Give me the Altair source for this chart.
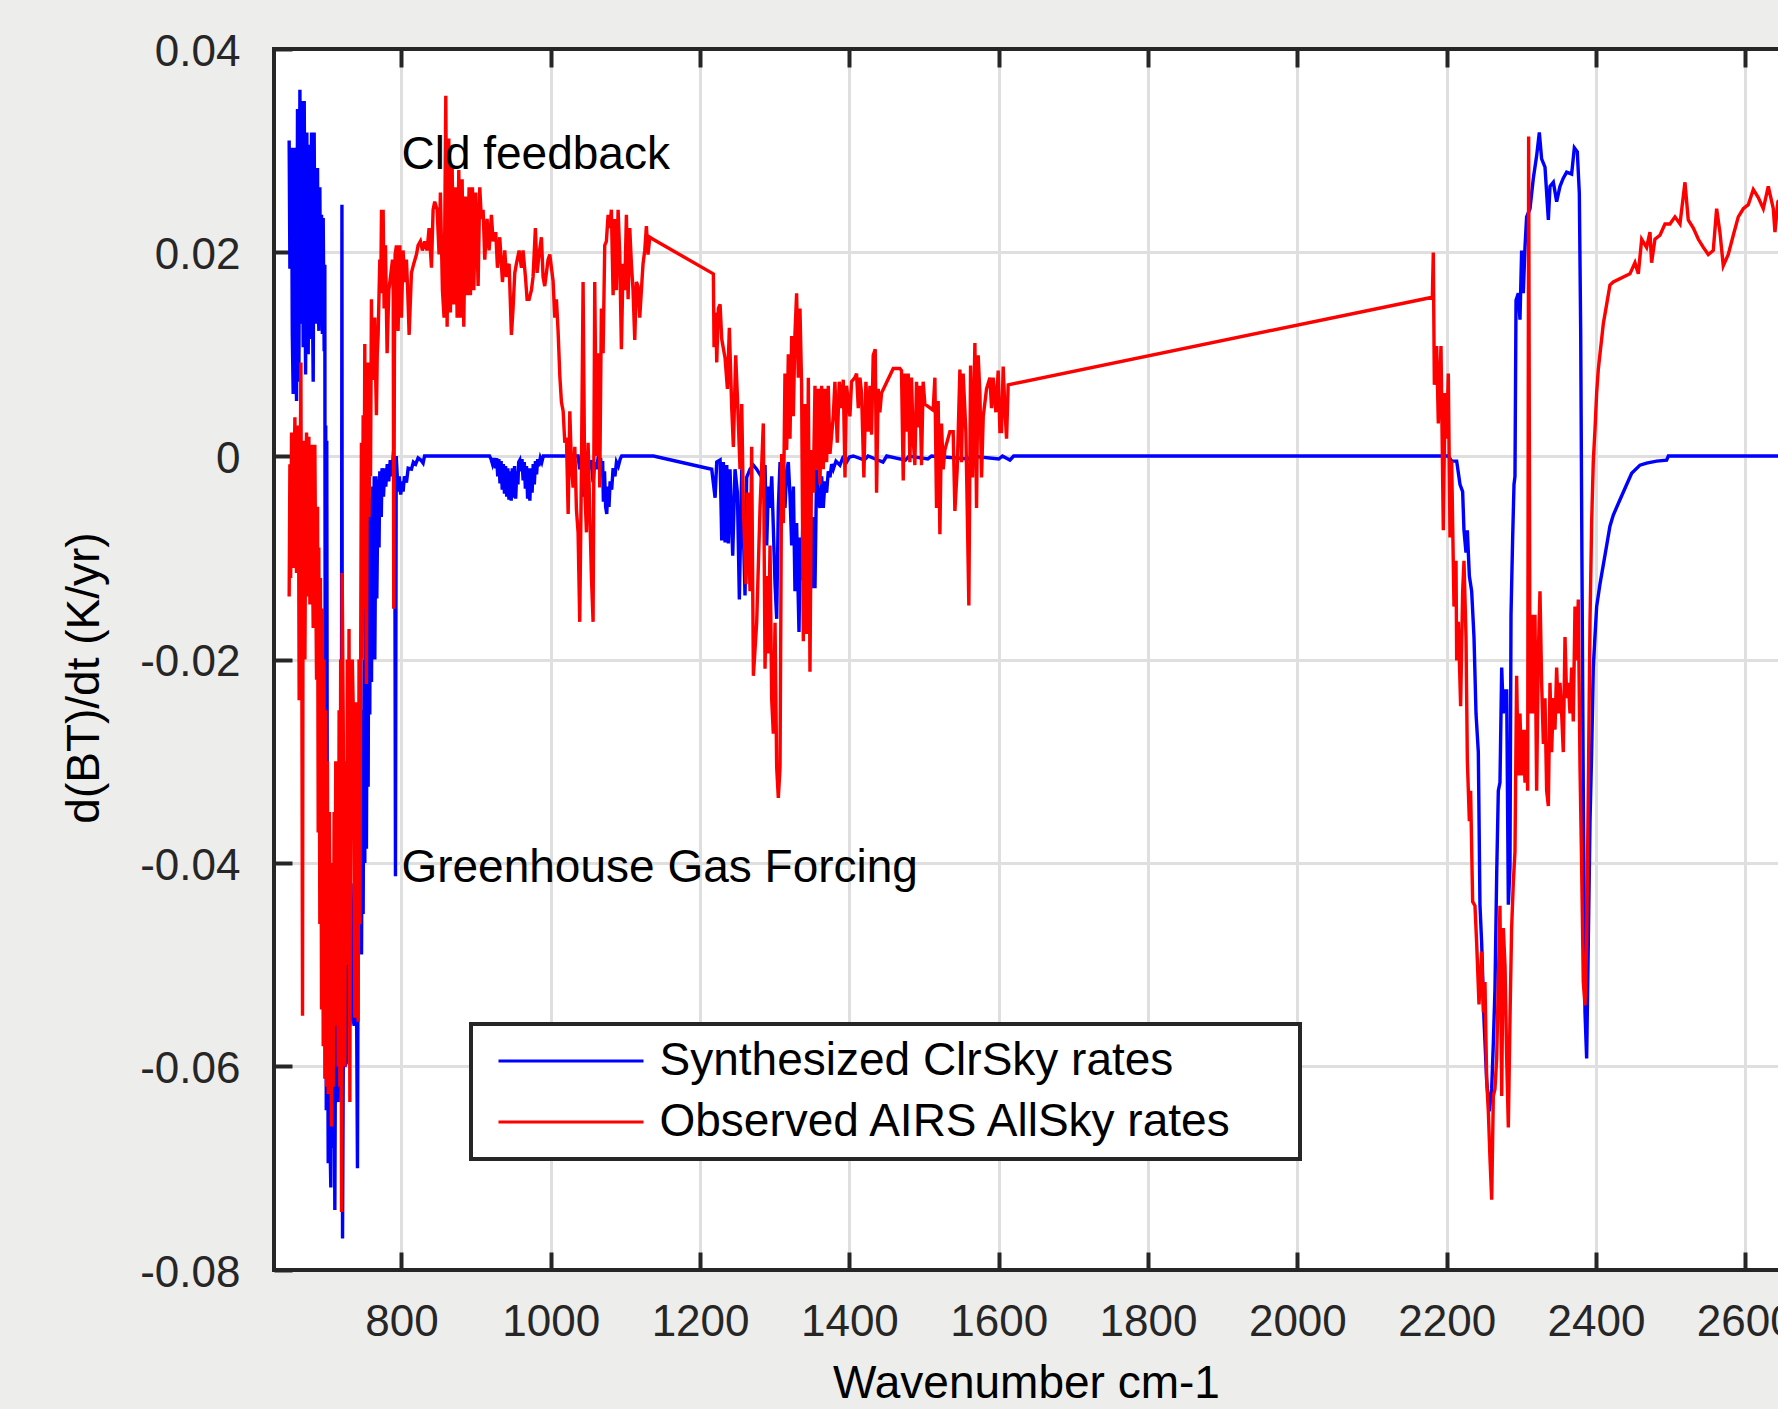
import altair as alt
import pandas as pd

# ---------------- values ----------------
series_names = ["Synthesized ClrSky rates", "Observed AIRS AllSky rates"]
series_colors = ["#0000ff", "#ff0000"]

# (wavenumber cm-1, d(BT)/dt K/yr)
blue_co2_band = [
    (649.6, 0.031), (650.6, 0.0184), (651.5, 0.029), (652.8, 0.0303), (653.8, 0.012), (655.0, 0.0061),
    (656.0, 0.022), (657.3, 0.0303), (658.4, 0.010), (659.5, 0.0054), (660.8, 0.0341), (661.6, 0.015),
    (662.6, 0.0073), (664.0, 0.036), (665.3, 0.013), (666.2, 0.028), (667.1, 0.0349), (668.4, 0.0107),
    (669.8, 0.0349), (670.7, 0.018), (671.6, 0.008), (673.3, 0.0318), (674.2, 0.015), (675.1, 0.010),
    (676.5, 0.0306), (677.4, 0.018), (678.2, 0.0115), (679.6, 0.0318), (680.7, 0.016), (681.8, 0.0073),
    (683.1, 0.0318), (684.0, 0.020), (684.9, 0.013), (686.3, 0.025), (687.6, 0.0283), (688.5, 0.015),
    (689.4, 0.0123), (690.7, 0.0264), (691.8, 0.014), (693.0, 0.0237), (694.1, 0.012), (695.2, 0.0234),
    (696.5, 0.0103), (697.4, 0.0188), (698.0, -0.040), (698.6, 0.003), (699.3, -0.0643), (700.0, 0.0015),
    (700.8, -0.045), (701.9, -0.0695), (702.8, -0.040), (704.0, -0.066), (705.4, -0.0719), (706.5, -0.045),
    (708.0, -0.068), (709.2, -0.048), (710.8, -0.0741), (712.0, -0.050), (713.5, -0.062), (715.3, -0.0635),
    (716.5, -0.045), (718.0, -0.060), (719.5, -0.048), (720.3, 0.0247), (721.1, -0.0769), (722.5, -0.052),
    (724.0, -0.060), (726.4, -0.0596), (728.0, -0.045), (730.9, -0.056), (732.5, -0.042), (734.5, -0.055),
    (736.7, -0.056), (738.5, -0.040), (740.0, -0.055), (741.1, -0.070), (742.5, -0.035), (744.3, -0.049),
    (745.5, -0.030), (746.5, -0.049), (748.0, -0.025), (748.7, -0.045), (750.0, -0.020), (750.9, -0.040),
    (752.0, -0.015), (753.1, -0.0386), (754.5, -0.010), (755.4, -0.0325), (756.5, -0.006), (757.6, -0.0254),
    (758.5, -0.004), (759.9, -0.0222), (761.0, -0.003), (762.1, -0.0198), (763.5, -0.002), (764.3, -0.020),
    (766.0, -0.002), (767.0, -0.014), (768.8, -0.0023), (770.0, -0.009), (771.0, -0.0015), (773.0, -0.006),
    (774.0, -0.0012), (776.0, -0.004), (777.5, -0.0012), (779.0, -0.003), (781.0, -0.0008), (783.0, -0.0025),
    (785.0, -0.0004), (787.0, -0.002), (789.0, 0.0), (791.0, -0.0003), (792.0, -0.0413), (793.0, 0.0),
    (795.5, -0.0035), (797.0, -0.0020), (799.0, -0.0038), (801.0, -0.0025), (802.2, -0.0035), (804.0, -0.0020),
    (806.7, -0.0026), (809.0, -0.0012), (813.4, -0.0013), (816.0, -0.0006), (819.0, -0.0008), (822.3, -0.0002),
    (826.0, -0.0004), (829.0, -0.0007), (831.0, 0.0),
]
blue_window = [
    (918.0, 0.0), (920.0, -0.0003), (922.0, -0.0008), (924.0, -0.0002), (926.0, -0.0012), (927.5, -0.0002),
    (929.0, -0.0020), (930.5, -0.0003), (932.0, -0.0027), (933.5, -0.0005), (935.0, -0.0033), (936.5, -0.0008),
    (938.0, -0.0037), (939.5, -0.0010), (941.0, -0.0040), (942.5, -0.0012), (944.0, -0.0043), (945.5, -0.0015),
    (947.0, -0.0044), (948.5, -0.0012), (950.0, -0.0041), (951.5, -0.0010), (953.0, -0.0042), (954.5, -0.0015),
    (956.0, -0.0028), (957.0, -0.0006), (958.5, -0.0004), (960.0, -0.0015), (961.5, -0.0003), (963.0, -0.0024),
    (964.5, -0.0006), (966.0, -0.0032), (967.5, -0.0010), (969.0, -0.0042), (970.5, -0.0012), (972.0, -0.0044),
    (973.5, -0.0012), (975.0, -0.0036), (976.5, -0.0008), (978.0, -0.0028), (979.5, -0.0005), (981.0, -0.0018),
    (982.5, -0.0003), (984.0, -0.0010), (986.0, -0.0002), (988.0, -0.0006), (990.0, 0.0), (1036.6, 0.0),
    (1038.8, -0.0013), (1041.0, -0.0003), (1043.3, -0.0040), (1045.5, -0.0004), (1047.7, 0.0), (1050.0, -0.0006),
    (1052.2, -0.0013), (1054.4, -0.0004), (1056.7, -0.0026), (1058.9, -0.0006), (1061.1, -0.0013), (1063.4, -0.0002),
    (1065.6, -0.0004), (1066.8, -0.0002), (1068.2, -0.0020), (1069.5, -0.0005), (1070.5, -0.0045), (1072.0, -0.0015),
    (1073.5, -0.0050), (1075.0, -0.0057), (1076.5, -0.0030), (1078.0, -0.0050), (1079.5, -0.0025), (1081.6, -0.0033),
    (1083.5, -0.0012), (1086.0, -0.0020), (1088.0, -0.0006), (1090.5, -0.0010), (1093.0, -0.0003), (1095.0, 0.0),
    (1137.6, 0.0),
]
blue_h2o_band = [
    (1215.6, -0.0013), (1220.1, -0.0041), (1222.3, -0.0006), (1226.8, -0.0004), (1229.0, -0.0083), (1231.2, -0.0006),
    (1233.5, -0.0085), (1235.7, -0.0009), (1237.9, -0.0086), (1240.1, -0.0013), (1243.7, -0.0098), (1246.8, -0.0013),
    (1250.0, -0.0036), (1252.6, -0.0141), (1255.8, -0.0013), (1260.2, -0.0137), (1262.4, -0.0021), (1266.9, -0.0013),
    (1271.4, -0.0009), (1275.8, -0.0013), (1282.5, -0.0021), (1287.0, -0.0009), (1289.2, -0.0088), (1291.5, -0.0030),
    (1293.7, -0.0051), (1296.0, -0.0020), (1298.1, -0.0070), (1300.4, -0.0126), (1302.6, -0.0160), (1304.8, -0.0051),
    (1307.1, -0.0006), (1310.6, -0.0021), (1313.7, -0.0051), (1316.0, -0.0015), (1318.2, -0.0006), (1320.5, -0.0040),
    (1322.7, -0.0088), (1325.0, -0.0030), (1327.1, -0.0133), (1329.3, -0.0066), (1332.5, -0.0173), (1334.2, -0.0080),
    (1336.0, -0.0122), (1338.3, -0.0040), (1340.5, -0.0013), (1342.7, -0.0060), (1345.0, -0.0051), (1347.2, -0.0110),
    (1349.4, -0.0130), (1351.6, -0.0060), (1353.9, -0.0130), (1356.1, -0.0013), (1358.3, -0.0045), (1360.6, -0.0051),
    (1362.8, -0.0020), (1365.0, -0.0051), (1367.3, -0.0025), (1369.5, -0.0036), (1371.7, -0.0015), (1374.0, -0.0021),
    (1376.2, -0.0008), (1378.4, -0.0013), (1382.0, -0.0005), (1387.3, -0.0009), (1391.0, -0.0002), (1396.2, -0.0006),
    (1400.0, -0.0001), (1405.2, 0.0), (1420.0, -0.0004), (1425.0, 0.0), (1445.0, -0.0006), (1450.0, 0.0),
    (1475.0, -0.0004), (1480.0, 0.0), (1505.0, -0.0003), (1510.0, 0.0), (1560.0, -0.0003), (1563.0, 0.0),
    (1600.0, -0.0003), (1605.0, 0.0), (1615.0, -0.0004), (1620.0, 0.0),
]
blue_shortwave = [
    (2202.2, 0.0), (2206.7, -0.0005), (2213.4, -0.0005), (2217.9, -0.0028), (2221.4, -0.0035), (2223.2, -0.0073),
    (2225.9, -0.0095), (2227.7, -0.0073), (2230.4, -0.0118), (2233.5, -0.0133), (2236.6, -0.0178), (2239.3, -0.0253),
    (2242.4, -0.0291), (2244.6, -0.0441), (2246.9, -0.0479), (2250.0, -0.0554), (2253.6, -0.0614), (2257.1, -0.0644),
    (2260.3, -0.0622), (2262.5, -0.0577), (2264.7, -0.0524), (2267.0, -0.0411), (2269.2, -0.0329), (2271.4, -0.0321),
    (2273.7, -0.0208), (2275.9, -0.0253), (2278.2, -0.0231), (2280.4, -0.0231), (2282.6, -0.0441), (2284.8, -0.0404),
    (2286.2, -0.0156), (2288.4, -0.0080), (2290.2, -0.0028), (2291.5, -0.0020), (2292.9, 0.0153), (2296.0, 0.0160),
    (2298.2, 0.0134), (2300.4, 0.0202), (2302.7, 0.0160), (2304.9, 0.0205), (2307.1, 0.0235), (2311.6, 0.0243),
    (2316.1, 0.0273), (2320.5, 0.0295), (2324.1, 0.0318), (2327.2, 0.0292), (2331.7, 0.0284), (2336.2, 0.0232),
    (2338.4, 0.0265), (2342.9, 0.0269), (2347.3, 0.0250), (2351.8, 0.0265), (2356.2, 0.0273), (2360.7, 0.0279),
    (2367.4, 0.0277), (2371.0, 0.0303), (2375.0, 0.0299), (2377.7, 0.0258), (2379.5, 0.0123), (2381.2, -0.0103),
    (2383.0, -0.0329), (2385.3, -0.0547), (2387.5, -0.0592), (2389.7, -0.0479), (2392.0, -0.0359), (2394.2, -0.0291),
    (2396.4, -0.0208), (2398.6, -0.0178), (2400.9, -0.0148), (2405.3, -0.0126), (2409.8, -0.0107), (2414.3, -0.0088),
    (2418.7, -0.0069), (2423.2, -0.0058), (2432.1, -0.0043), (2441.1, -0.0028), (2447.8, -0.0017), (2458.9, -0.0009),
    (2467.8, -0.0007), (2481.2, -0.0005), (2494.6, -0.0004), (2496.9, 0.0), (2665.0, 0.0),
]

red_co2_band = [
    (649.6, -0.0138), (650.6, -0.0008), (651.6, -0.012), (652.8, 0.0023), (654.0, -0.006), (655.0, -0.011),
    (656.2, -0.002), (657.3, 0.0038), (658.4, -0.008), (659.5, -0.0115), (660.6, 0.000), (661.7, 0.003),
    (662.4, -0.010), (663.0, -0.024), (664.2, -0.005), (665.3, 0.0092), (666.0, -0.008), (666.6, -0.020),
    (667.5, -0.055), (668.2, -0.010), (668.9, 0.0015), (669.8, -0.008), (670.7, -0.020), (671.8, -0.004),
    (672.9, 0.0023), (673.6, -0.006), (674.2, -0.0138), (675.1, -0.003), (676.0, 0.0019), (676.7, -0.008),
    (677.4, -0.0146), (678.5, -0.004), (679.6, 0.0011), (680.7, -0.009), (681.8, -0.0169), (682.9, -0.003),
    (684.0, 0.0011), (685.2, -0.012), (686.3, -0.022), (687.0, -0.008), (687.6, -0.005), (688.5, -0.037),
    (689.3, -0.009), (690.7, -0.046), (691.5, -0.012), (693.0, -0.0544), (694.0, -0.015), (695.2, -0.058),
    (696.2, -0.020), (697.4, -0.0612), (698.5, -0.025), (699.7, -0.062), (700.8, -0.030), (701.9, -0.0627),
    (703.5, -0.035), (706.3, -0.0659), (707.5, -0.040), (708.6, -0.062), (709.8, -0.035), (710.8, -0.056),
    (712.0, -0.030), (713.0, -0.0456), (714.4, -0.0409), (715.3, -0.060), (716.5, -0.025), (717.5, -0.062),
    (718.6, -0.020), (719.8, -0.0743), (720.6, -0.0115), (722.0, -0.0254), (723.0, -0.045), (724.2, -0.060),
    (725.3, -0.030), (726.4, -0.050), (727.5, -0.020), (728.6, -0.0381), (729.8, -0.017), (730.9, -0.0635),
    (732.0, -0.030), (733.1, -0.0373), (734.2, -0.020), (735.3, -0.0242), (736.5, -0.040), (737.6, -0.0552),
    (738.7, -0.025), (739.8, -0.0242), (741.0, -0.050), (742.0, -0.0556), (743.2, -0.020), (744.3, -0.046),
    (745.5, -0.017), (746.4, 0.0013), (747.4, -0.020), (748.7, 0.004), (749.6, -0.015), (750.9, 0.011),
    (751.8, -0.008), (753.1, -0.0224), (754.0, -0.004), (755.4, 0.0092), (756.5, -0.006), (757.6, 0.0022),
    (758.6, -0.002), (759.8, 0.0154), (760.8, 0.008), (762.1, 0.0075), (763.2, 0.012), (764.3, 0.0136),
    (765.4, 0.008), (766.5, 0.004), (767.6, 0.010), (768.8, 0.0119), (770.0, 0.016), (771.0, 0.0193),
    (772.2, 0.016), (773.3, 0.0242), (774.4, 0.018), (775.5, 0.0242), (776.8, 0.0145), (778.6, 0.0207),
    (780.8, 0.0101), (783.1, 0.0163), (785.3, 0.0176), (788.0, 0.0193), (789.0, 0.016), (789.7, -0.015),
    (790.6, 0.010), (791.5, 0.0198), (793.3, 0.0207), (795.5, 0.0123), (797.8, 0.0207), (800.0, 0.0136),
    (802.2, 0.0202), (804.5, 0.0171), (806.7, 0.0193), (808.5, 0.016), (810.3, 0.0119), (813.4, 0.018),
    (816.5, 0.0189), (820.1, 0.0198), (822.3, 0.0207), (825.4, 0.0211), (828.1, 0.0202), (831.2, 0.0211),
    (834.4, 0.0202), (837.0, 0.0224), (840.2, 0.0185), (842.4, 0.0242), (844.6, 0.0250), (847.8, 0.0242),
    (850.4, 0.0198), (852.2, 0.0259), (854.9, 0.0163), (857.1, 0.0136), (859.4, 0.0354), (861.2, 0.0127),
    (863.4, 0.0312), (865.6, 0.0141), (867.9, 0.0286), (870.1, 0.0149), (872.3, 0.0264), (874.6, 0.0136),
    (876.8, 0.0281), (879.0, 0.0136), (881.3, 0.0272), (883.5, 0.0127), (885.7, 0.0255), (887.9, 0.0158),
    (890.6, 0.0264), (892.4, 0.0158), (895.1, 0.0264), (896.9, 0.0163), (899.6, 0.0259), (902.7, 0.0167),
    (904.9, 0.0264), (907.1, 0.0233), (909.4, 0.0242), (911.6, 0.0193), (914.7, 0.0233), (917.4, 0.0202),
    (920.5, 0.0237), (922.8, 0.0211), (926.3, 0.0220), (928.6, 0.0185), (931.7, 0.0215), (935.3, 0.0171),
    (938.4, 0.0202), (940.6, 0.0176), (944.2, 0.0189), (947.3, 0.0119), (949.5, 0.0145), (951.8, 0.0180),
    (954.0, 0.0189), (957.6, 0.0202), (960.7, 0.0185), (962.9, 0.0202), (966.1, 0.0176), (968.3, 0.0154),
    (971.0, 0.0154), (974.1, 0.0163), (976.3, 0.0176), (979.4, 0.0224), (981.7, 0.0180), (984.3, 0.0198),
    (987.5, 0.0215), (989.7, 0.0176), (991.9, 0.0167), (994.2, 0.0180), (996.4, 0.0193), (998.7, 0.0198),
]
red_window = [
    (1000.9, 0.0185), (1003.1, 0.0172), (1005.4, 0.0136), (1007.6, 0.0154), (1009.8, 0.0123), (1012.1, 0.0079),
    (1014.3, 0.0053), (1016.6, 0.0044), (1018.8, 0.0013), (1021.0, 0.0018), (1023.3, -0.0057), (1025.5, 0.0044),
    (1027.7, -0.0009), (1029.9, -0.0031), (1032.2, 0.0009), (1034.4, -0.0053), (1036.6, -0.0075), (1038.8, -0.0163),
    (1041.1, -0.0013), (1043.3, 0.0171), (1045.5, -0.0031), (1047.8, -0.0075), (1050.0, 0.0013), (1052.2, -0.0053),
    (1054.5, -0.0119), (1056.7, -0.0163), (1058.9, 0.0171), (1061.2, 0.0000), (1063.4, 0.0101), (1065.6, -0.0031),
    (1067.8, 0.0145), (1070.1, 0.0101), (1072.3, 0.0207), (1074.5, 0.0211), (1076.8, 0.0237), (1079.0, 0.0224),
    (1081.2, 0.0242), (1083.5, 0.0158), (1085.7, 0.0233), (1087.9, 0.0163), (1090.2, 0.0242), (1092.4, 0.0198),
    (1094.6, 0.0105), (1096.9, 0.0189), (1099.1, 0.0163), (1101.3, 0.0237), (1103.6, 0.0154), (1105.8, 0.0224),
    (1108.0, 0.0189), (1110.2, 0.0163), (1112.5, 0.0114), (1114.7, 0.0171), (1116.9, 0.0167), (1119.2, 0.0136),
    (1121.4, 0.0163), (1123.6, 0.0189), (1125.9, 0.0202), (1128.1, 0.0226), (1130.3, 0.0198), (1132.6, 0.0215),
    (1137.0, 0.0213),
]
red_h2o_band = [
    (1217.8, 0.0179), (1218.7, 0.0107), (1221.0, 0.0141), (1222.3, 0.0092), (1224.5, 0.0145), (1226.8, 0.0149),
    (1229.0, 0.0115), (1233.5, 0.0096), (1236.6, 0.0066), (1239.2, 0.0126), (1242.4, 0.0047), (1244.6, 0.0009),
    (1247.7, 0.0099), (1250.0, 0.0058), (1253.5, -0.0013), (1255.8, 0.0051), (1258.0, -0.0051), (1261.5, -0.0126),
    (1263.8, -0.0036), (1266.9, -0.0133), (1269.1, 0.0009), (1271.4, -0.0216), (1275.8, -0.0164), (1280.3, -0.0051),
    (1284.7, 0.0032), (1287.0, -0.0209), (1289.2, -0.0118), (1291.4, -0.0194), (1293.7, -0.0088), (1295.9, -0.0239),
    (1298.1, -0.0273), (1300.4, -0.0164), (1302.6, -0.0306), (1304.8, -0.0336), (1307.1, -0.0306), (1309.3, 0.0002),
    (1311.5, -0.0066), (1313.7, 0.0081), (1316.0, 0.0006), (1318.2, 0.0100), (1320.4, 0.0017), (1322.7, 0.0118),
    (1324.9, 0.0039), (1327.1, 0.0120), (1329.3, 0.0160), (1331.6, 0.0077), (1333.8, 0.0145), (1336.0, 0.0069),
    (1338.3, -0.0182), (1340.5, 0.0051), (1342.7, -0.0175), (1345.0, 0.0077), (1347.2, -0.0212), (1349.4, 0.0006),
    (1351.6, -0.0036), (1353.9, 0.0069), (1356.1, -0.0013), (1358.3, 0.0066), (1360.6, -0.0028), (1362.8, 0.0069),
    (1365.0, -0.0013), (1367.3, 0.0066), (1369.5, -0.0006), (1371.7, 0.0069), (1374.0, 0.0002), (1378.4, 0.0039),
    (1380.6, 0.0073), (1383.8, 0.0013), (1386.4, 0.0073), (1389.6, 0.0047), (1391.8, 0.0075), (1394.1, -0.0021),
    (1396.2, 0.0069), (1400.7, 0.0039), (1402.9, 0.0073), (1407.4, 0.0077), (1409.6, 0.0081), (1411.9, 0.0047),
    (1414.1, 0.0077), (1416.3, 0.0062), (1419.4, -0.0021), (1422.1, 0.0073), (1425.2, 0.0024), (1427.5, 0.0069),
    (1429.7, 0.0021), (1431.9, 0.0099), (1434.6, 0.0105), (1436.4, -0.0036), (1438.6, 0.0066), (1440.8, 0.0043),
    (1443.1, 0.0062), (1458.7, 0.0086), (1467.6, 0.0086), (1469.8, 0.0084), (1472.1, -0.0024), (1474.3, 0.0081),
    (1476.5, 0.0024), (1478.8, 0.0081), (1481.0, -0.0006), (1483.2, 0.0077), (1485.4, 0.0017), (1487.7, -0.0009),
    (1489.9, 0.0073), (1492.1, 0.0028), (1494.4, 0.0069), (1496.6, -0.0009), (1498.8, 0.0073), (1501.1, 0.0051),
    (1512.2, 0.0045), (1514.5, 0.0077), (1516.7, -0.0051), (1518.9, 0.0054), (1521.2, -0.0077), (1523.4, 0.0032),
    (1525.6, -0.0013), (1527.9, 0.0006), (1534.6, 0.0024), (1539.0, 0.0024), (1541.3, -0.0054), (1544.4, -0.0013),
    (1548.0, 0.0085), (1550.2, -0.0006), (1552.4, 0.0081), (1556.0, 0.0024), (1557.8, -0.0051), (1560.0, -0.0147),
    (1562.3, 0.0089), (1564.9, -0.0021), (1568.1, 0.0111), (1570.3, -0.0051), (1572.5, 0.0099), (1574.8, 0.0062),
    (1577.0, -0.0021), (1579.3, 0.0039), (1583.7, 0.0066), (1588.2, 0.0077), (1590.4, 0.0047), (1592.6, 0.0077),
    (1596.2, 0.0043), (1599.3, 0.0084), (1601.6, 0.0024), (1603.8, 0.0024), (1606.0, 0.0088), (1608.2, 0.0047),
    (1610.5, 0.0017), (1612.7, 0.0070),
]
red_shortwave = [
    (2180.8, 0.0156), (2182.1, 0.0200), (2183.5, 0.0070), (2186.6, 0.0108), (2188.8, 0.0032), (2192.4, 0.0108),
    (2195.5, -0.0073), (2197.8, 0.0062), (2200.0, 0.0017), (2202.2, 0.0081), (2204.5, -0.0080), (2206.7, -0.0005),
    (2209.8, -0.0148), (2212.5, -0.0103), (2213.4, -0.0201), (2215.6, -0.0163), (2218.7, -0.0246), (2221.4, -0.0133),
    (2223.2, -0.0103), (2225.9, -0.0178), (2227.7, -0.0299), (2230.4, -0.0359), (2232.1, -0.0329), (2234.8, -0.0438),
    (2237.9, -0.0442), (2240.2, -0.0479), (2243.3, -0.0539), (2246.9, -0.0487), (2249.1, -0.0547), (2251.3, -0.0517),
    (2253.6, -0.0614), (2255.8, -0.0644), (2258.0, -0.0690), (2260.3, -0.0731), (2262.5, -0.0629), (2264.7, -0.0622),
    (2267.0, -0.0592), (2269.2, -0.0517), (2271.4, -0.0442), (2273.7, -0.0629), (2275.9, -0.0464), (2278.2, -0.0502),
    (2280.4, -0.0592), (2282.6, -0.0660), (2284.8, -0.0554), (2287.0, -0.0464), (2289.3, -0.0419), (2291.5, -0.0389),
    (2293.7, -0.0216), (2296.0, -0.0314), (2298.2, -0.0253), (2300.4, -0.0314), (2302.7, -0.0269), (2304.9, -0.0321),
    (2307.1, -0.0269), (2308.5, -0.0329), (2309.8, 0.0314), (2311.6, -0.0253), (2313.8, -0.0156), (2316.1, -0.0253),
    (2318.3, -0.0156), (2320.5, -0.0329), (2322.8, -0.0193), (2325.0, -0.0133), (2327.2, -0.0223), (2329.5, -0.0283),
    (2331.7, -0.0238), (2333.9, -0.0329), (2336.2, -0.0344), (2338.4, -0.0223), (2340.6, -0.0291), (2342.9, -0.0238),
    (2345.1, -0.0269), (2347.3, -0.0208), (2349.6, -0.0253), (2351.8, -0.0223), (2354.0, -0.0253), (2356.2, -0.0291),
    (2358.5, -0.0178), (2360.7, -0.0238), (2362.9, -0.0223), (2365.2, -0.0253), (2367.4, -0.0208), (2369.6, -0.0261),
    (2371.9, -0.0148), (2374.1, -0.0201), (2376.3, -0.0141), (2378.6, -0.0306), (2380.8, -0.0404), (2383.0, -0.0517),
    (2385.3, -0.0540), (2387.5, -0.0479), (2389.7, -0.0329), (2392.0, -0.0163), (2394.2, -0.0065), (2396.4, -0.0005),
    (2398.6, 0.0025), (2400.9, 0.0062), (2403.1, 0.0085), (2405.3, 0.0100), (2407.6, 0.0115), (2409.8, 0.0130),
    (2414.3, 0.0149), (2418.7, 0.0168), (2423.2, 0.0171), (2445.5, 0.0179), (2452.2, 0.0190), (2456.7, 0.0179),
    (2461.2, 0.0213), (2467.8, 0.0205), (2472.3, 0.0220), (2474.5, 0.0190), (2479.0, 0.0213), (2485.7, 0.0217),
    (2492.4, 0.0228), (2499.1, 0.0228), (2505.8, 0.0235), (2512.5, 0.0228), (2519.2, 0.0269), (2523.6, 0.0232),
    (2530.4, 0.0224), (2537.1, 0.0213), (2543.8, 0.0205), (2550.4, 0.0198), (2557.1, 0.0202), (2561.6, 0.0243),
    (2566.0, 0.0220), (2570.5, 0.0187), (2577.2, 0.0198), (2583.9, 0.0217), (2590.6, 0.0235), (2597.3, 0.0243),
    (2604.0, 0.0247), (2610.7, 0.0262), (2617.4, 0.0254), (2624.1, 0.0243), (2630.8, 0.0265), (2637.5, 0.0243),
    (2639.7, 0.0220), (2643.7, 0.0250), (2652.0, 0.0255), (2665.0, 0.0240),
]

x_tick_values = [800, 1000, 1200, 1400, 1600, 1800, 2000, 2200, 2400, 2600]
y_tick_values = [-0.08, -0.06, -0.04, -0.02, 0, 0.02, 0.04]
x_range = [629.3, 2643.8]
y_range = [-0.08, 0.04]

note_labels = ["Cld feedback", "Greenhouse Gas Forcing"]
note_wavenumbers = [800, 800]
note_rates = [0.03, -0.04]

# ---------------- tables ----------------
def series_table(points, name):
    return pd.DataFrame({
        "wavenumber": [p[0] for p in points],
        "rate": [p[1] for p in points],
        "series": name,
    })

blue_df = series_table(blue_co2_band + blue_window + blue_h2o_band + blue_shortwave, series_names[0])
red_df = series_table(red_co2_band + red_window + red_h2o_band + red_shortwave, series_names[1])
notes_df = pd.DataFrame({"label": note_labels, "wavenumber": note_wavenumbers, "rate": note_rates})
hframe_df = pd.DataFrame({"rate": y_range})
vframe_df = pd.DataFrame({"wavenumber": [x_range[0]]})

# ---------------- styling ----------------
FONT = "Liberation Sans"
INK = "#262626"
GRID = "#dfdfdf"
LINE_W = 3.4

x_scale = alt.Scale(domain=x_range, nice=False, zero=False)
y_scale = alt.Scale(domain=y_range, nice=False, zero=False)
color_scale = alt.Scale(domain=series_names, range=series_colors)

# the legend box in the reference leaves a wide margin right of the labels:
# pad the measured label width with no-break spaces closed by a zero-width char
legend = alt.Legend(
    title=None, orient="none", legendX=197, legendY=975,
    symbolType="stroke", symbolSize=21025, symbolStrokeWidth=3, symbolOffset=12,
    labelOffset=14.5, labelFont=FONT, labelFontSize=46, labelColor="black", labelLimit=1500,
    labelExpr="datum.label + '\u00a0\u00a0\u00a0\u00a0\u200b'",
    padding=14, rowPadding=15, clipHeight=46,
    strokeColor=INK, fillColor="white", cornerRadius=0,
)

bottom_axis = alt.Axis(
    values=x_tick_values, format="d", orient="bottom", offset=-18,
    tickSize=18, tickWidth=4, tickColor=INK, domain=False,
    grid=True, gridColor=GRID, gridWidth=3,
    labelFont=FONT, labelFontSize=44, labelColor=INK, labelPadding=30,
    labelFlush=False, labelOverlap=False,
    title="Wavenumber cm-1", titleFont=FONT, titleFontSize=46, titleFontWeight="normal",
    titleColor="black", titleBaseline="alphabetic", titleY=145,
)
left_axis = alt.Axis(
    values=y_tick_values, labelExpr="toString(datum.value)", orient="left", offset=-18,
    tickSize=18, tickWidth=4, tickColor=INK, domain=False,
    grid=True, gridColor=GRID, gridWidth=3,
    labelFont=FONT, labelFontSize=44, labelColor=INK, labelPadding=34, labelOffset=3,
    labelFlush=False, labelOverlap=False,
    title="d(BT)/dt (K/yr)", titleFont=FONT, titleFontSize=46, titleFontWeight="normal",
    titleColor="black", titleAngle=270, titleAlign="center", titleBaseline="alphabetic",
    titleX=-194, titleY=628.5,
)
top_axis = alt.Axis(
    values=x_tick_values, orient="top", offset=-18, tickSize=18, tickWidth=4, tickColor=INK,
    domain=False, grid=False, labels=False, title=None,
)

blue = alt.Chart(blue_df).mark_line(strokeWidth=LINE_W, clip=True).encode(
    x=alt.X("wavenumber:Q", scale=x_scale, axis=bottom_axis),
    y=alt.Y("rate:Q", scale=y_scale, axis=left_axis),
    color=alt.Color("series:N", scale=color_scale, legend=legend),
)
red = alt.Chart(red_df).mark_line(strokeWidth=LINE_W, clip=True).encode(
    x=alt.X("wavenumber:Q", scale=x_scale, axis=top_axis),
    y=alt.Y("rate:Q", scale=y_scale, axis=None),
    color=alt.Color("series:N", scale=color_scale, legend=legend),
)
hframe = alt.Chart(hframe_df).mark_rule(color=INK, strokeWidth=4, strokeCap="square").encode(
    y=alt.Y("rate:Q", scale=y_scale, axis=None),
)
vframe = alt.Chart(vframe_df).mark_rule(color=INK, strokeWidth=4, strokeCap="square").encode(
    x=alt.X("wavenumber:Q", scale=x_scale, axis=None),
)
notes = alt.Chart(notes_df).mark_text(
    align="left", baseline="middle", dy=4.5, font=FONT, fontSize=46, color="black",
).encode(
    x=alt.X("wavenumber:Q", scale=x_scale, axis=None),
    y=alt.Y("rate:Q", scale=y_scale, axis=None),
    text="label:N",
)

chart = (
    alt.layer(blue, red, hframe, vframe, notes)
    .resolve_axis(x="independent", y="independent")
    .properties(
        width=1504, height=1221, background="#ededeb",
        padding={"left": 274, "top": 49, "right": 0, "bottom": 139},
        autosize=alt.AutoSizeParams(type="none"),
    )
    .configure_view(stroke=None, fill="white")
    .configure_legend(strokeWidth=4)
)

chart.save("out.html", embed_options={"renderer": "svg", "actions": False})
